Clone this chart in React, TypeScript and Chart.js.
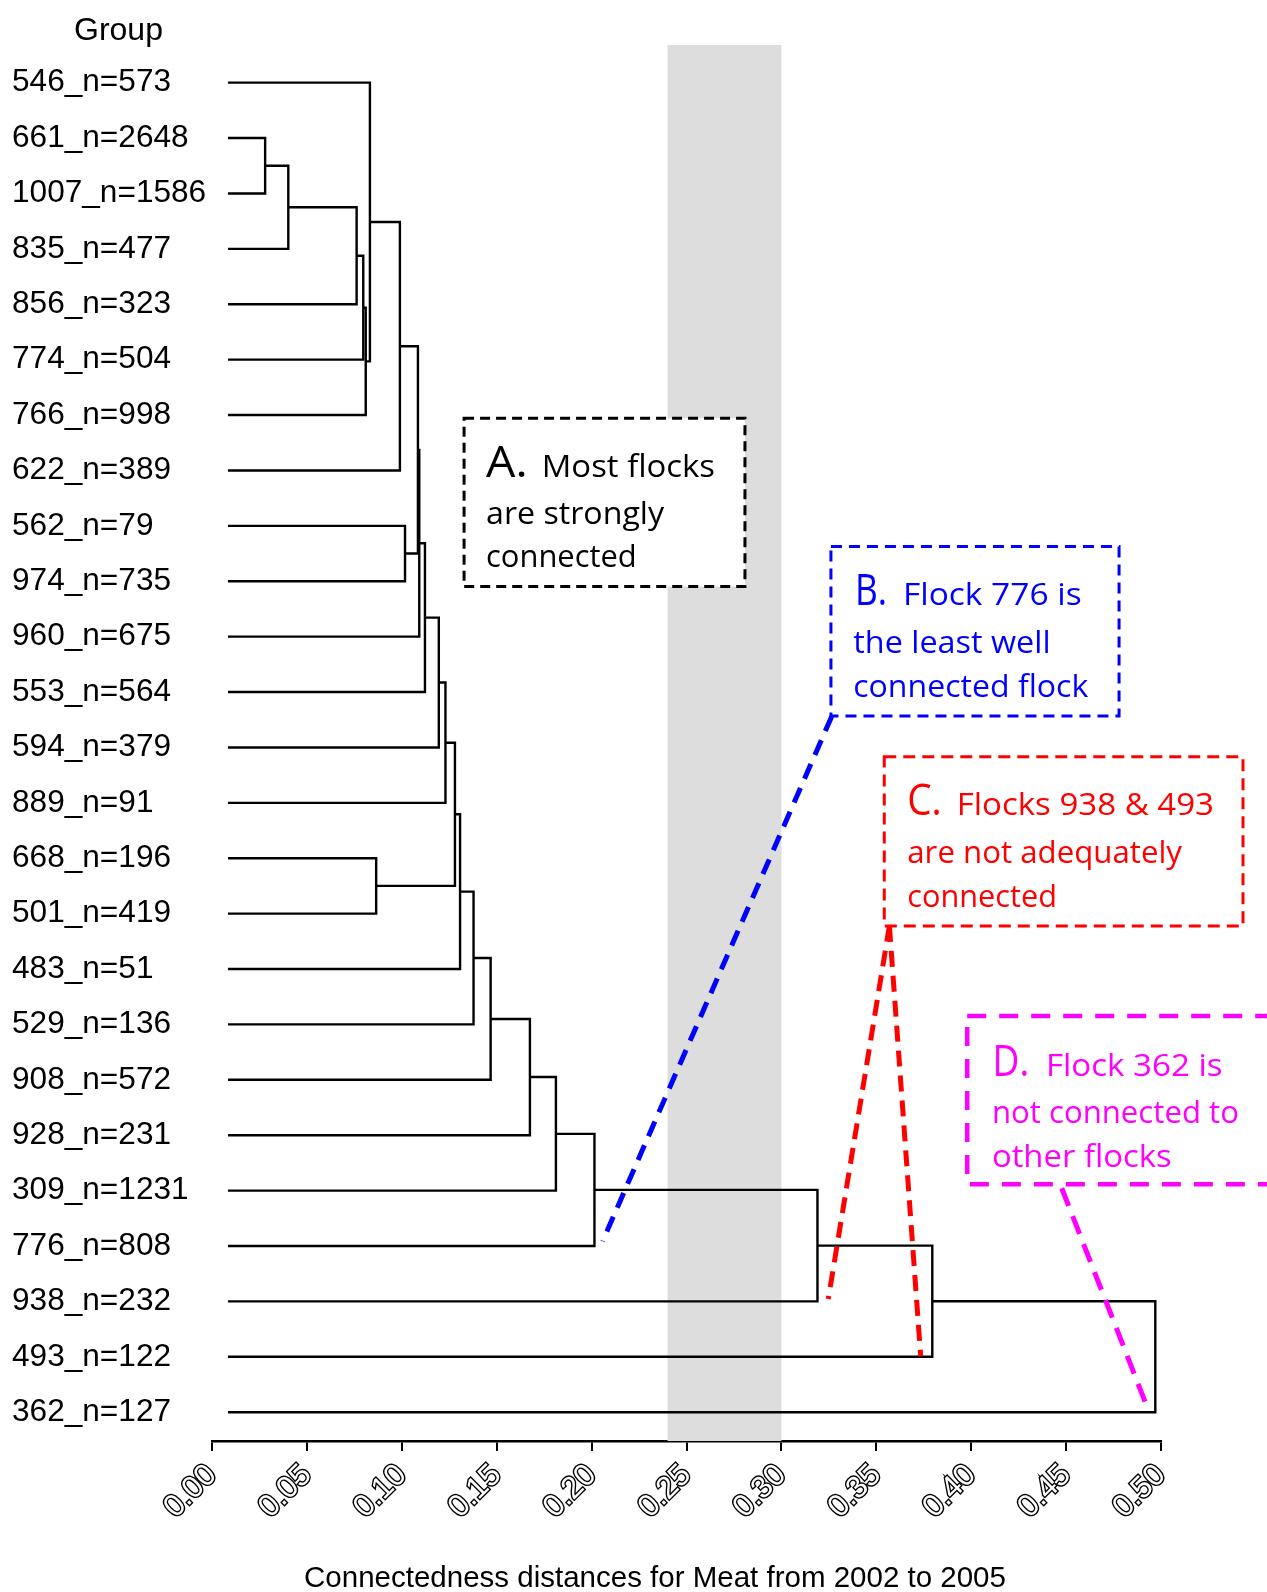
import React, { useEffect, useRef } from "react";
import { Chart, registerables } from "chart.js";

Chart.register(...registerables);

// ---------------- data ----------------
const leafLabels = [
  "546_n=573", "661_n=2648", "1007_n=1586", "835_n=477", "856_n=323",
  "774_n=504", "766_n=998", "622_n=389", "562_n=79", "974_n=735",
  "960_n=675", "553_n=564", "594_n=379", "889_n=91", "668_n=196",
  "501_n=419", "483_n=51", "529_n=136", "908_n=572", "928_n=231",
  "309_n=1231", "776_n=808", "938_n=232", "493_n=122", "362_n=127",
];

// merge steps: child ids (0..24 leaves, 25+k = result of step k)
const mergeLeft = [1, 25, 26, 27, 28, 0, 30, 8, 31, 33, 34, 35, 36, 14, 37, 39, 40, 41, 42, 43, 44, 45, 46, 47];
const mergeRight = [2, 3, 4, 5, 6, 29, 7, 9, 32, 10, 11, 12, 13, 15, 38, 16, 17, 18, 19, 20, 21, 22, 23, 24];
const mergeHeight = [
  0.028, 0.0402, 0.0762, 0.0797, 0.081, 0.0832, 0.099, 0.1017, 0.1085, 0.1092,
  0.1122, 0.1195, 0.123, 0.0865, 0.128, 0.1307, 0.1378, 0.1468, 0.1675, 0.1812,
  0.2015, 0.319, 0.3795, 0.497,
];
const leafHeight = 0.0084;

const xTicks = [0, 0.05, 0.1, 0.15, 0.2, 0.25, 0.3, 0.35, 0.4, 0.45, 0.5];
const bandRange = [0.24, 0.3];

const groupTitle = "Group";
const xAxisTitle = "Connectedness distances for Meat from 2002 to 2005";

// annotation texts
const boxAText = ["A.", "Most flocks", "are strongly", "connected"];
const boxBText = ["B.", "Flock 776 is", "the least well", "connected flock"];
const boxCText = ["C.", "Flocks 938 & 493", "are not adequately", "connected"];
const boxDText = ["D.", "Flock 362 is", "not connected to", "other flocks"];

// ---------------- styles / layout ----------------
const FONT_SANS = "'Liberation Sans', Arial, Helvetica, sans-serif";
const FONT_NOTE = "'Comic Sans MS', 'Open Sans', 'Noto Sans', sans-serif";

type Box = {
  text: string[];
  color: string;
  x0: number; x1: number; y0: number; y1: number; // data coords
  lw: number; dash: number[];
  // relative pixel layout of text: [letterX, letterW, rest1X, rest1W, base1, l2X, l2W, base2, l3X, l3W, base3]
  t: number[];
};

const boxes: Box[] = [
  { text: boxAText, color: "#000000", x0: 0.1328, x1: 0.2808, y0: 6.058, y1: 9.097, lw: 3, dash: [10, 6],
    t: [22, 41.6, 77.7, 173.3, 58.7, 22, 178, 106, 22, 150.7, 148.7] },
  { text: boxBText, color: "#0000ff", x0: 0.3261, x1: 0.4779, y0: 8.375, y1: 11.431, lw: 3, dash: [11, 7],
    t: [24, 32, 72, 178.7, 58.3, 22.3, 197.4, 106, 22.3, 235, 150] },
  { text: boxCText, color: "#ff0000", x0: 0.3542, x1: 0.5432, y0: 12.17, y1: 15.222, lw: 3, dash: [12, 7],
    t: [23, 34.4, 72.4, 257.3, 58, 23, 274.7, 106.3, 23, 149.7, 149.7] },
  { text: boxDText, color: "#ff00ff", x0: 0.3979, x1: 0.57, y0: 16.846, y1: 19.885, lw: 4.5, dash: [19, 13],
    t: [25.4, 36.6, 78.7, 176.7, 60, 24.7, 247, 107.3, 24.7, 179.7, 150.7] },
];

const connectors = [
  { color: "#0000ff", from: [0.3265, 11.44], to: [0.2058, 20.914], lw: 5, dash: [16, 10] },
  { color: "#ff0000", from: [0.3569, 15.222], to: [0.3247, 21.957], lw: 5, dash: [16, 9] },
  { color: "#ff0000", from: [0.3569, 15.222], to: [0.3734, 22.993], lw: 5, dash: [16, 9] },
  { color: "#ff00ff", from: [0.4477, 19.957], to: [0.4933, 23.958], lw: 5, dash: [19, 11] },
];

function buildDatasets() {
  const n = leafLabels.length;
  const pos: number[] = leafLabels.map((_, i) => i);
  const hgt: number[] = leafLabels.map(() => leafHeight);
  mergeLeft.forEach((a, k) => {
    const b = mergeRight[k];
    pos[n + k] = (pos[a] + pos[b]) / 2;
    hgt[n + k] = mergeHeight[k];
  });
  return mergeLeft.map((a, k) => {
    const b = mergeRight[k];
    const h = mergeHeight[k];
    return {
      data: [
        { x: hgt[a], y: pos[a] },
        { x: h, y: pos[a] },
        { x: h, y: pos[b] },
        { x: hgt[b], y: pos[b] },
      ],
      showLine: true,
      borderColor: "#000000",
      borderWidth: 2.4,
      pointRadius: 0,
      pointHoverRadius: 0,
      fill: false,
      tension: 0,
      borderJoinStyle: "miter" as const,
    };
  });
}

function fitText(ctx: CanvasRenderingContext2D, s: string, x: number, y: number, w: number, size: number) {
  ctx.font = `${size}px ${FONT_NOTE}`;
  const m = ctx.measureText(s).width;
  const sx = m > 0 ? w / m : 1;
  ctx.save();
  ctx.translate(x, y);
  ctx.scale(sx, 1);
  ctx.textAlign = "left";
  ctx.textBaseline = "alphabetic";
  ctx.fillText(s, 0, 0);
  ctx.restore();
}

const bandPlugin = {
  id: "band",
  beforeDatasetsDraw(chart: any) {
    const { ctx, chartArea, scales } = chart;
    const xs = scales.x;
    const l = xs.getPixelForValue(bandRange[0]);
    const r = xs.getPixelForValue(bandRange[1]);
    ctx.save();
    ctx.fillStyle = "#dddddd";
    ctx.fillRect(l, chartArea.top, r - l, chartArea.bottom - chartArea.top);
    ctx.restore();
  },
};

const notesPlugin = {
  id: "notes",
  afterDraw(chart: any) {
    const { ctx, scales, chartArea } = chart;
    const xs = scales.x;
    const ys = scales.y;

    // Group header
    ctx.save();
    ctx.fillStyle = "#000";
    ctx.font = `32px ${FONT_SANS}`;
    ctx.textAlign = "left";
    ctx.textBaseline = "alphabetic";
    ctx.fillText(groupTitle, 74, 40);

    // x axis title
    ctx.font = `29.5px ${FONT_SANS}`;
    ctx.textAlign = "center";
    ctx.fillText(xAxisTitle, xs.getPixelForValue(0.2334), chartArea.bottom + 146);
    ctx.restore();

    // connectors
    connectors.forEach((c) => {
      ctx.save();
      ctx.strokeStyle = c.color;
      ctx.lineWidth = c.lw;
      ctx.setLineDash(c.dash);
      ctx.lineCap = "butt";
      ctx.beginPath();
      ctx.moveTo(xs.getPixelForValue(c.from[0]), ys.getPixelForValue(c.from[1]));
      ctx.lineTo(xs.getPixelForValue(c.to[0]), ys.getPixelForValue(c.to[1]));
      ctx.stroke();
      ctx.restore();
    });

    // boxes
    boxes.forEach((b) => {
      const L = xs.getPixelForValue(b.x0);
      const R = xs.getPixelForValue(b.x1);
      const T = ys.getPixelForValue(b.y0);
      const B = ys.getPixelForValue(b.y1);
      ctx.save();
      ctx.fillStyle = "#ffffff";
      ctx.fillRect(L, T, R - L, B - T);
      ctx.strokeStyle = b.color;
      ctx.lineWidth = b.lw;
      ctx.setLineDash(b.dash);
      ctx.strokeRect(L, T, R - L, B - T);
      ctx.setLineDash([]);
      ctx.fillStyle = b.color;
      const t = b.t;
      fitText(ctx, b.text[0], L + t[0], T + t[4], t[1], 43);
      fitText(ctx, b.text[1], L + t[2], T + t[4], t[3], 31);
      fitText(ctx, b.text[2], L + t[5], T + t[7], t[6], 31);
      fitText(ctx, b.text[3], L + t[8], T + t[10], t[9], 31);
      ctx.restore();
    });
  },
};

export default function App() {
  const ref = useRef<HTMLCanvasElement | null>(null);

  useEffect(() => {
    if (!ref.current) return;
    const chart = new Chart(ref.current, {
      type: "scatter",
      data: { datasets: buildDatasets() as any },
      options: {
        animation: false,
        responsive: false,
        maintainAspectRatio: false,
        events: [],
        layout: { padding: { left: 12, right: 106, top: 45, bottom: 0 } },
        plugins: {
          legend: { display: false },
          tooltip: { enabled: false },
          title: { display: false },
        },
        scales: {
          x: {
            type: "linear",
            position: "bottom",
            min: 0,
            max: 0.5,
            afterFit: (s: any) => {
              s.height = 151;
            },
            afterBuildTicks: (s: any) => {
              s.ticks = xTicks.map((v) => ({ value: v }));
            },
            ticks: {
              autoSkip: false,
              minRotation: 45,
              maxRotation: 45,
              padding: 6,
              color: "#ffffff",
              textStrokeColor: "#000000",
              textStrokeWidth: 2.8,
              font: { family: FONT_SANS, size: 31 },
              callback: (v: any) => Number(v).toFixed(2),
            },
            grid: {
              display: true,
              drawOnChartArea: false,
              drawTicks: true,
              tickLength: 10,
              color: "#000000",
              lineWidth: 2,
            },
            border: { display: true, color: "#000000", width: 2.4 },
          },
          y: {
            type: "linear",
            position: "left",
            reverse: true,
            min: -0.68,
            max: 24.52,
            afterFit: (s: any) => {
              s.width = 200;
            },
            afterBuildTicks: (s: any) => {
              s.ticks = leafLabels.map((_, i) => ({ value: i }));
            },
            ticks: {
              autoSkip: false,
              crossAlign: "far",
              padding: 0,
              color: "#000000",
              font: { family: FONT_SANS, size: 31.6 },
              callback: (v: any) => leafLabels[Math.round(Number(v))],
            },
            grid: { display: false },
            border: { display: false },
          },
        },
      } as any,
      plugins: [bandPlugin, notesPlugin],
    });
    return () => chart.destroy();
  }, []);

  return (
    <div style={{ position: "absolute", left: 0, top: 0, width: 1267, height: 1592, background: "#ffffff" }}>
      <canvas ref={ref} width={1267} height={1592} style={{ width: 1267, height: 1592, display: "block" }} />
    </div>
  );
}
